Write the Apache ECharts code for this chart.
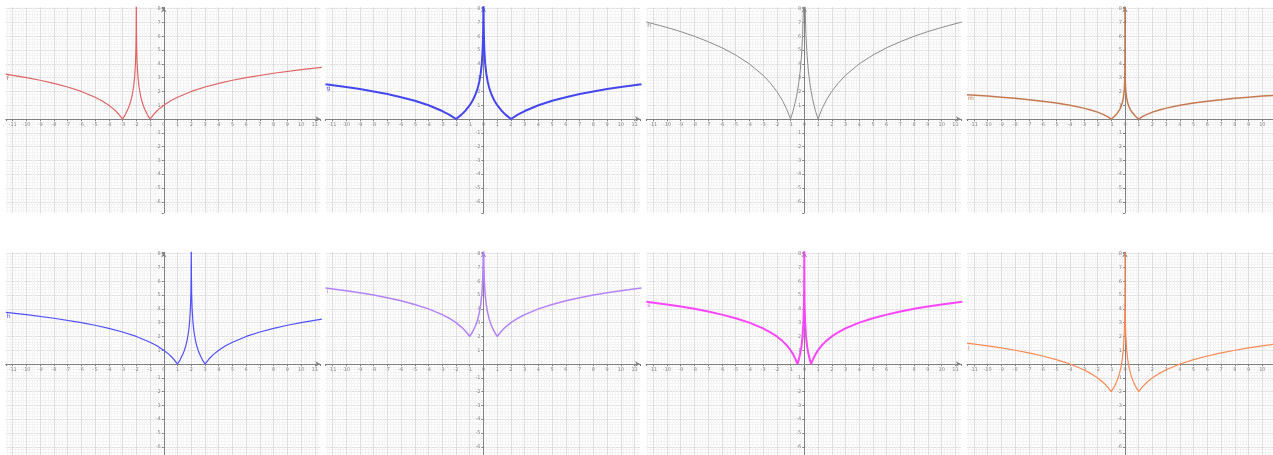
<!DOCTYPE html>
<html>
<head>
<meta charset="utf-8">
<script src="https://cdn.jsdelivr.net/npm/echarts@6/dist/echarts.min.js"></script>
<style>
  html, body { margin: 0; padding: 0; background: #fff; }
  #chart { width: 1273px; height: 455px; }
</style>
</head>
<body>
<div id="chart"></div>
<script>
// x samples shared by the curves that are symmetric round x = 0
const xSym = [-11.5, -10, -9, -8, -7, -6, -5, -4, -3, -2.5, -2, -1.6, -1.3, -1, -0.8, -0.6, -0.5, -0.4, -0.3, -0.2, -0.12, -0.06, -0.03, -0.012, -0.004, -0.001, -0.0001, -0.00001,
  0.00001, 0.0001, 0.001, 0.004, 0.012, 0.03, 0.06, 0.12, 0.2, 0.3, 0.4, 0.5, 0.6, 0.8, 1, 1.3, 1.6, 2, 2.5, 3, 4, 5, 6, 7, 8, 9, 10, 11.5]

// panel 1 (red) - spike at x = -2
const xF = [-11.5, -10, -9, -8, -7, -6, -5, -4.5, -4, -3.6, -3.3, -3, -2.8, -2.6, -2.5, -2.4, -2.3, -2.2, -2.12, -2.06, -2.03, -2.012, -2.004, -2.001,
  -1.999, -1.996, -1.988, -1.97, -1.94, -1.88, -1.8, -1.7, -1.6, -1.5, -1.4, -1.2, -1, -0.7, -0.4, 0, 0.5, 1, 2, 3, 4, 5, 6, 8, 10, 11.5]
const yF = [3.25, 3.00, 2.81, 2.58, 2.32, 2.00, 1.58, 1.32, 1.00, 0.68, 0.38, 0, 0.32, 0.74, 1, 1.32, 1.74, 2.32, 3.06, 4.06, 5.06, 6.38, 7.97, 9.97,
  9.97, 7.97, 6.38, 5.06, 4.06, 3.06, 2.32, 1.74, 1.32, 1, 0.74, 0.32, 0, 0.38, 0.68, 1, 1.32, 1.58, 2, 2.32, 2.58, 2.81, 3, 3.32, 3.58, 3.75]

// panel 2 (blue, thick)
const yG = [2.52, 2.32, 2.17, 2.00, 1.81, 1.58, 1.32, 1.00, 0.58, 0.32, 0, 0.32, 0.62, 1, 1.32, 1.74, 2, 2.32, 2.74, 3.32, 4.06, 5.06, 6.06, 7.38, 8.97, 10.97, 14.3, 17.6,
  17.6, 14.3, 10.97, 8.97, 7.38, 6.06, 5.06, 4.06, 3.32, 2.74, 2.32, 2, 1.74, 1.32, 1, 0.62, 0.32, 0, 0.32, 0.58, 1.00, 1.32, 1.58, 1.81, 2.00, 2.17, 2.32, 2.52]

// panel 3 (grey)
const yH = [7.04, 6.64, 6.34, 6.00, 5.61, 5.17, 4.64, 4.00, 3.17, 2.64, 2.00, 1.36, 0.76, 0, 0.64, 1.47, 2, 2.64, 3.47, 4.64, 6.12, 8.12, 10.12, 12.76, 15.9, 19.9, 26.6, 33.2,
  33.2, 26.6, 19.9, 15.9, 12.76, 10.12, 8.12, 6.12, 4.64, 3.47, 2.64, 2, 1.47, 0.64, 0, 0.76, 1.36, 2.00, 2.64, 3.17, 4.00, 4.64, 5.17, 5.61, 6.00, 6.34, 6.64, 7.04]

// panel 4 (brown)
const yM = [1.76, 1.66, 1.58, 1.50, 1.40, 1.29, 1.16, 1.00, 0.79, 0.66, 0.50, 0.34, 0.19, 0, 0.16, 0.37, 0.5, 0.66, 0.87, 1.16, 1.53, 2.03, 2.53, 3.19, 3.98, 4.98, 6.64, 8.3,
  8.3, 6.64, 4.98, 3.98, 3.19, 2.53, 2.03, 1.53, 1.16, 0.87, 0.66, 0.5, 0.37, 0.16, 0, 0.19, 0.34, 0.50, 0.66, 0.79, 1.00, 1.16, 1.29, 1.40, 1.50, 1.58, 1.66, 1.76]

// panel 5 (blue) - spike at x = 2
const xP = [-11.5, -10, -8, -6, -5, -4, -3, -2, -1, -0.5, 0, 0.4, 0.7, 1, 1.2, 1.4, 1.5, 1.6, 1.7, 1.8, 1.88, 1.94, 1.97, 1.988, 1.996, 1.999,
  2.001, 2.004, 2.012, 2.03, 2.06, 2.12, 2.2, 2.3, 2.4, 2.5, 2.6, 2.8, 3, 3.3, 3.6, 4, 4.5, 5, 6, 7, 8, 9, 10, 11.5]
const yP = [3.75, 3.58, 3.32, 3, 2.81, 2.58, 2.32, 2, 1.58, 1.32, 1, 0.68, 0.38, 0, 0.32, 0.74, 1, 1.32, 1.74, 2.32, 3.06, 4.06, 5.06, 6.38, 7.97, 9.97,
  9.97, 7.97, 6.38, 5.06, 4.06, 3.06, 2.32, 1.74, 1.32, 1, 0.74, 0.32, 0, 0.38, 0.68, 1, 1.32, 1.58, 2, 2.32, 2.58, 2.81, 3, 3.25]

// panel 6 (violet)
const yQ = [5.52, 5.32, 5.17, 5.00, 4.81, 4.58, 4.32, 4.00, 3.58, 3.32, 3.00, 2.68, 2.38, 2, 2.32, 2.74, 3, 3.32, 3.74, 4.32, 5.06, 6.06, 7.06, 8.38, 9.97, 11.97, 15.3, 18.6,
  18.6, 15.3, 11.97, 9.97, 8.38, 7.06, 6.06, 5.06, 4.32, 3.74, 3.32, 3, 2.74, 2.32, 2, 2.38, 2.68, 3.00, 3.32, 3.58, 4.00, 4.32, 4.58, 4.81, 5.00, 5.17, 5.32, 5.52]

// panel 7 (magenta)
const yS = [4.52, 4.32, 4.17, 4.00, 3.81, 3.58, 3.32, 3.00, 2.58, 2.32, 2.00, 1.68, 1.38, 1.00, 0.68, 0.26, 0, 0.32, 0.74, 1.32, 2.06, 3.06, 4.06, 5.38, 6.97, 8.97, 12.3, 15.6,
  15.6, 12.3, 8.97, 6.97, 5.38, 4.06, 3.06, 2.06, 1.32, 0.74, 0.32, 0, 0.26, 0.68, 1.00, 1.38, 1.68, 2.00, 2.32, 2.58, 3.00, 3.32, 3.58, 3.81, 4.00, 4.17, 4.32, 4.52]

// panel 8 (orange)
const yT = [1.52, 1.32, 1.17, 1.00, 0.81, 0.58, 0.32, 0, -0.42, -0.68, -1.00, -1.32, -1.62, -2, -1.68, -1.26, -1, -0.68, -0.26, 0.32, 1.06, 2.06, 3.06, 4.38, 5.97, 7.97, 11.3, 14.6,
  14.6, 11.3, 7.97, 5.97, 4.38, 3.06, 2.06, 1.06, 0.32, -0.26, -0.68, -1, -1.26, -1.68, -2, -1.62, -1.32, -1.00, -0.68, -0.42, 0, 0.32, 0.58, 0.81, 1.00, 1.17, 1.32, 1.52]

const names = ['f', 'g', 'h', 'm', 'h', 'i', 's', 'j']
const xRange = [-11.5, 11.4]
const yRange = [-6.8, 8.1]

const panels = [
    { xs: xF,   ys: yF, color: '#e06464', width: 1.2 },
    { xs: xSym, ys: yG, color: '#4646ee', width: 2 },
    { xs: xSym, ys: yH, color: '#8c8c8c', width: 1 },
    { xs: xSym, ys: yM, color: '#c57a52', width: 1.5 },
    { xs: xP,   ys: yP, color: '#5050fa', width: 1.2 },
    { xs: xSym, ys: yQ, color: '#b482fa', width: 1.5 },
    { xs: xSym, ys: yS, color: '#fa46fa', width: 2 },
    { xs: xSym, ys: yT, color: '#fa8a55', width: 1.2 }
]

/* panel layout (px) */
const colLeft = [5.8, 325.5, 646.3, 967]
const rowTop = [7.3, 252.3]
const GW = 314.6, GH = 205.5
// move the axes onto x = 0 / y = 0 inside each panel
const xAxisShift = -GH * (0 - yRange[0]) / (yRange[1] - yRange[0])
const yAxisShift = -GW * (0 - xRange[0]) / (xRange[1] - xRange[0])

const isInt = (v) => Math.abs(v - Math.round(v)) < 1e-9

const grid = [], xAxis = [], yAxis = [], series = []
panels.forEach((p, i) => {
    grid.push({ left: colLeft[i % 4], top: rowTop[Math.floor(i / 4)], width: GW, height: GH, outerBoundsMode: 'none', containLabel: false })
    const axisCommon = {
        type: 'value',
        gridIndex: i,
        minInterval: 1,
        maxInterval: 1,
        axisLine: { onZero: false, lineStyle: { color: '#808080', width: 1 }, symbol: ['none', 'arrow'], symbolSize: [4, 5] },
        axisTick: { show: true, length: 2, inside: false, lineStyle: { color: '#808080' } },
        splitLine: { show: true, showMinLine: false, showMaxLine: false, lineStyle: { color: '#dedede', width: 1 } },
        minorTick: { show: false, splitNumber: 5 },
        minorSplitLine: { show: true, lineStyle: { color: '#f4f4f4', width: 1 } }
    }
    xAxis.push(Object.assign({}, axisCommon, {
        position: 'bottom',
        offset: xAxisShift,
        min: xRange[0], max: xRange[1],
        axisLabel: { fontSize: 5, color: '#888888', margin: 3, fontFamily: 'DejaVu Sans',
            formatter: (v) => (isInt(v) && Math.abs(v) <= 11 ? String(Math.round(v)) : '') }
    }))
    yAxis.push(Object.assign({}, axisCommon, {
        position: 'left',
        offset: yAxisShift,
        min: yRange[0], max: yRange[1],
        axisLabel: { fontSize: 5, color: '#888888', margin: 3, fontFamily: 'DejaVu Sans',
            formatter: (v) => (isInt(v) && Math.round(v) !== 0 ? String(Math.round(v)) : '') }
    }))
    const data = p.xs.map((x, k) => [x, p.ys[k]])
    data[0] = {
        value: data[0],
        label: { show: true, formatter: names[i], position: [1, 1], fontSize: 6, color: p.color, fontFamily: 'DejaVu Sans' }
    }
    series.push({
        type: 'line',
        xAxisIndex: i,
        yAxisIndex: i,
        data: data,
        showSymbol: true,
        symbol: 'circle',
        symbolSize: 0,
        clip: true,
        silent: true,
        lineStyle: { color: p.color, width: p.width },
        itemStyle: { color: p.color },
        z: 5
    })
})

const myChart = echarts.init(document.getElementById('chart'), null, { renderer: 'canvas' })
myChart.setOption({
    animation: false,
    backgroundColor: '#ffffff',
    grid: grid,
    xAxis: xAxis,
    yAxis: yAxis,
    series: series
})
</script>
</body>
</html>
